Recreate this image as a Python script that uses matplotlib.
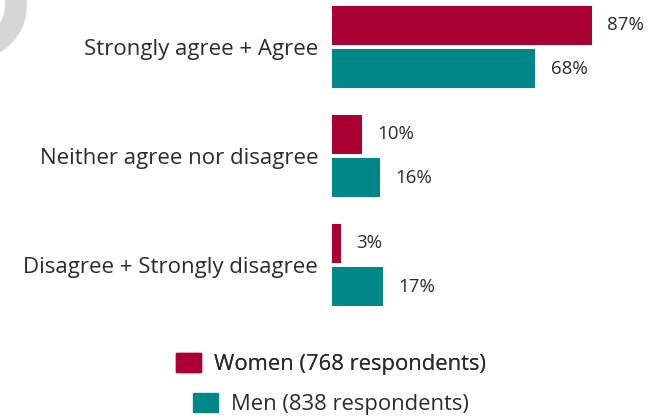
import numpy as np
import matplotlib.pyplot as plt
from matplotlib.patches import Patch, Wedge

categories = ['Strongly agree + Agree', 'Neither agree nor disagree', 'Disagree + Strongly disagree']
women = [87, 10, 3]
men = [68, 16, 17]
women_label = 'Women (768 respondents)'
men_label = 'Men (838 respondents)'

c_women = '#ab0033'
c_men = '#008787'
txt = '#2b2b2b'

plt.rcParams['font.family'] = ['Open Sans', 'DejaVu Sans']

W, H = 657, 419
fig = plt.figure(figsize=(W / 100, H / 100), dpi=100)

# decorative ring in the top-left corner (inches)
ring = Wedge((-0.28, H / 100 - 0.05), 0.55, 0, 360, width=0.22,
             transform=fig.dpi_scale_trans, facecolor='#d6d6d6', edgecolor='none')
fig.patches.append(ring)

ax = fig.add_axes([332 / W, 92 / H, 299 / W, 327 / H])
y = np.arange(len(categories))
h = 0.358
off = 0.2
ax.barh(y - off, women, height=h, color=c_women)
ax.barh(y + off, men, height=h, color=c_men)

for i in range(len(categories)):
    ax.annotate(f'{women[i]}%', (women[i], y[i] - off), xytext=(11, 0), textcoords='offset points',
                va='center', ha='left', fontsize=13.5, color=txt)
    ax.annotate(f'{men[i]}%', (men[i], y[i] + off), xytext=(11, 0), textcoords='offset points',
                va='center', ha='left', fontsize=13.5, color=txt)

ax.set_xlim(0, 100)
ax.set_ylim(2.569, -0.431)
ax.set_yticks(y)
ax.set_yticklabels(categories, fontsize=16, color=txt)
ax.tick_params(axis='y', length=0, pad=10)
ax.set_xticks([])
for s in ax.spines.values():
    s.set_visible(False)
ax.patch.set_alpha(0)

leg_kw = dict(loc='center', frameon=False, fontsize=15.8, handlelength=1.14, handleheight=1.0,
              handletextpad=0.6, borderpad=0, labelcolor=txt)
leg1 = fig.legend(handles=[Patch(color=c_women, label=women_label)],
                  bbox_to_anchor=(331 / W, 1 - 364 / H), **leg_kw)
fig.add_artist(leg1)
fig.legend(handles=[Patch(color=c_men, label=men_label)],
           bbox_to_anchor=(331 / W, 1 - 404 / H), **leg_kw)

fig.savefig('out.png', dpi=100)
